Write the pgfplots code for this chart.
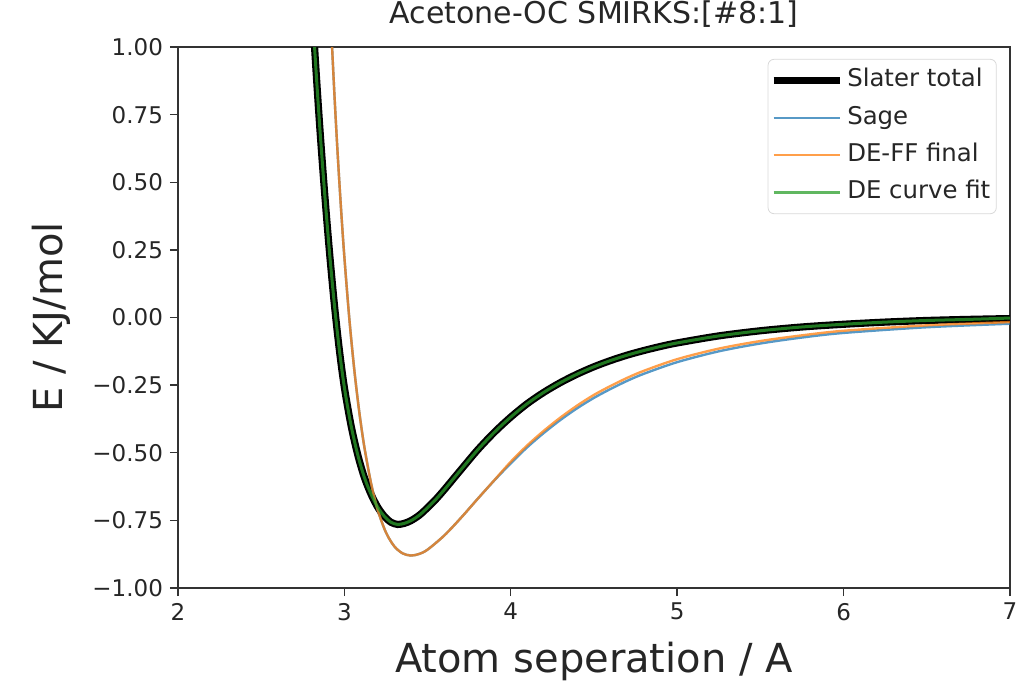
\documentclass[border=0pt]{standalone}
\usepackage{fontspec}
\setmainfont{DejaVu Sans}
\usepackage{pgfplots}
\pgfplotsset{compat=1.18}
\definecolor{tabblue}{HTML}{1F77B4}
\definecolor{taborange}{HTML}{FF7F0E}
\definecolor{tabgreen}{HTML}{2CA02C}

\begin{document}
\begin{tikzpicture}
\begin{axis}[
    scale only axis, width=416pt, height=270.5pt,
    xmin=2, xmax=7, ymin=-1, ymax=1,
    xtick={2,3,4,5,6,7}, xticklabels={2,3,4,5,6,7},
    ytick={-1,-0.75,-0.5,-0.25,0,0.25,0.5,0.75,1},
    yticklabels={−1.00,−0.75,−0.50,−0.25,0.00,0.25,0.50,0.75,1.00},
    tick align=outside, xtick pos=bottom, ytick pos=left,
    major tick length=4pt,
    tick style={black!80, line width=0.7pt},
    axis line style={black!80, line width=0.8pt},
    tick label style={font=\fontsize{11.5}{13}\selectfont, black!85},
    title={Acetone-OC SMIRKS:[\#8:1]},
    title style={font=\fontsize{15}{17}\selectfont, black!85, inner sep=0pt,
        at={(axis description cs:0.5,1)}, anchor=base, yshift=6pt},
    xlabel={Atom seperation / A},
    xlabel style={font=\fontsize{20}{22}\selectfont, black!85, inner sep=0pt,
        at={(axis description cs:0.5,-0.1553)}, anchor=base},
    ylabel={E / KJ/mol},
    ylabel style={font=\fontsize{20}{22}\selectfont, black!85, inner sep=0pt,
        at={(axis description cs:-0.1394,0.5)}, anchor=base},
    legend style={at={(0.984,0.978)}, anchor=north east,
        draw=black!15, rounded corners=3pt, fill=white,
        font=\fontsize{12.2}{14}\selectfont, text=black!85,
        inner xsep=1pt, inner ysep=3pt, row sep=3.2pt,
        nodes={text height=8.8pt, text depth=2.6pt, inner sep=2pt}},
    legend cell align=left,
    legend image code/.code={\draw[#1] (0pt,0pt) -- (29pt,0pt);
        \path (29pt,0pt) -- (33pt,0pt);},
]
% Slater total
\addplot[black, line width=3.6pt, smooth] coordinates {
 (2.76,1.70) (2.79,1.337) (2.82,1.007) (2.85,0.722) (2.88,0.47) (2.91,0.245)
 (2.94,0.047) (2.97,-0.121) (3.00,-0.259) (3.04,-0.399) (3.08,-0.507) (3.12,-0.591)
 (3.16,-0.653) (3.20,-0.701) (3.24,-0.735) (3.28,-0.757) (3.32,-0.765) (3.36,-0.761)
 (3.40,-0.751) (3.45,-0.731) (3.50,-0.703) (3.55,-0.672) (3.60,-0.637) (3.65,-0.600)
 (3.70,-0.563) (3.80,-0.490) (3.90,-0.425) (4.00,-0.368) (4.10,-0.318) (4.20,-0.276)
 (4.30,-0.240) (4.40,-0.209) (4.50,-0.182) (4.60,-0.159) (4.70,-0.139) (4.80,-0.122)
 (4.90,-0.107) (5.00,-0.094) (5.25,-0.068) (5.50,-0.049) (5.75,-0.035) (6.00,-0.025)
 (6.25,-0.017) (6.50,-0.011) (6.75,-0.007) (7.00,-0.004)
};
% Sage
\addplot[tabblue, opacity=0.75, line width=1.2pt, smooth] coordinates {
 (2.90,1.364) (2.92,1.079) (2.94,0.825) (2.96,0.600) (2.98,0.400) (3.00,0.222)
 (3.03,-0.007) (3.06,-0.196) (3.09,-0.352) (3.12,-0.479) (3.16,-0.612) (3.20,-0.711)
 (3.25,-0.795) (3.30,-0.846) (3.35,-0.872) (3.40,-0.880) (3.45,-0.874) (3.50,-0.858)
 (3.60,-0.806) (3.70,-0.741) (3.80,-0.671) (3.90,-0.603) (4.00,-0.539) (4.10,-0.479)
 (4.20,-0.426) (4.30,-0.378) (4.40,-0.335) (4.50,-0.297) (4.60,-0.264) (4.70,-0.234)
 (4.80,-0.208) (5.00,-0.165) (5.25,-0.125) (5.50,-0.096) (5.75,-0.074) (6.00,-0.057)
 (6.50,-0.036) (7.00,-0.023)
};
% DE-FF final
\addplot[taborange, opacity=0.75, line width=1.2pt, smooth] coordinates {
 (2.90,1.364) (2.92,1.079) (2.94,0.825) (2.96,0.600) (2.98,0.400) (3.00,0.222)
 (3.03,-0.007) (3.06,-0.196) (3.09,-0.352) (3.12,-0.479) (3.16,-0.612) (3.20,-0.711)
 (3.25,-0.795) (3.30,-0.846) (3.35,-0.872) (3.40,-0.880) (3.45,-0.874) (3.50,-0.858)
 (3.60,-0.806) (3.70,-0.741) (3.80,-0.671) (3.90,-0.602) (4.00,-0.533) (4.10,-0.472)
 (4.20,-0.418) (4.30,-0.369) (4.40,-0.325) (4.50,-0.286) (4.60,-0.253) (4.70,-0.223)
 (4.80,-0.197) (5.00,-0.154) (5.25,-0.115) (5.50,-0.087) (5.75,-0.066) (6.00,-0.049)
 (6.50,-0.029) (7.00,-0.017)
};
% DE curve fit
\addplot[tabgreen, opacity=0.75, line width=1.5pt, smooth] coordinates {
 (2.76,1.70) (2.79,1.337) (2.82,1.007) (2.85,0.722) (2.88,0.47) (2.91,0.245)
 (2.94,0.047) (2.97,-0.121) (3.00,-0.259) (3.04,-0.399) (3.08,-0.507) (3.12,-0.591)
 (3.16,-0.653) (3.20,-0.701) (3.24,-0.735) (3.28,-0.757) (3.32,-0.765) (3.36,-0.761)
 (3.40,-0.751) (3.45,-0.731) (3.50,-0.703) (3.55,-0.672) (3.60,-0.637) (3.65,-0.600)
 (3.70,-0.563) (3.80,-0.490) (3.90,-0.425) (4.00,-0.368) (4.10,-0.318) (4.20,-0.276)
 (4.30,-0.240) (4.40,-0.209) (4.50,-0.182) (4.60,-0.159) (4.70,-0.139) (4.80,-0.122)
 (4.90,-0.107) (5.00,-0.094) (5.25,-0.068) (5.50,-0.049) (5.75,-0.035) (6.00,-0.025)
 (6.25,-0.017) (6.50,-0.011) (6.75,-0.007) (7.00,-0.002)
};
\legend{Slater total, Sage, DE-FF final, DE curve fit}
\end{axis}
\pgfresetboundingbox
\path (-89pt,-47pt) rectangle (428pt,294pt);
\end{tikzpicture}
\end{document}
